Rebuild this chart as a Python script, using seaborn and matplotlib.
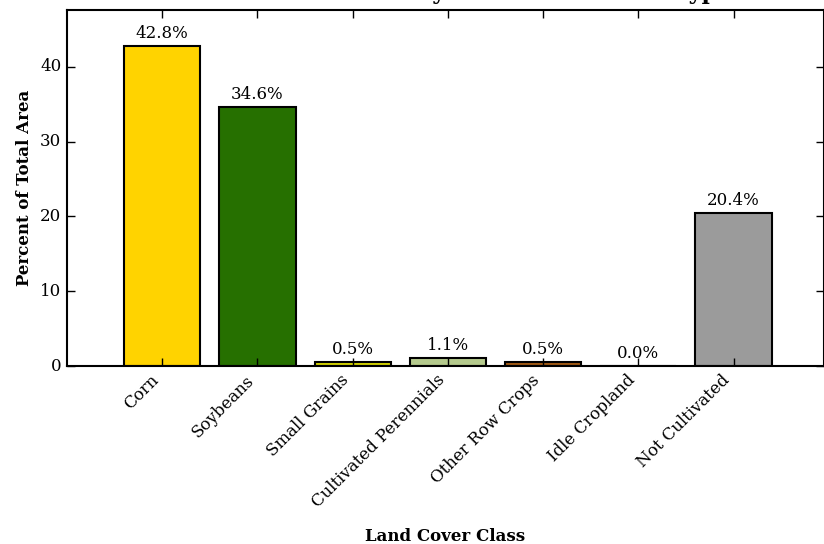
#!/usr/bin/env python3
# -*- coding: utf-8 -*-

# import modules
import pandas as pd
import matplotlib
matplotlib.use('Agg')
import matplotlib.pyplot as plt
import seaborn as sns

# data
classes = ['Corn', 'Soybeans', 'Small Grains', 'Cultivated Perennials',
           'Other Row Crops', 'Idle Cropland', 'Not Cultivated']
percent = [42.8, 34.6, 0.5, 1.1, 0.5, 0.02, 20.4]
colors = ['#FFD300', '#267000', '#D4D400', '#B5CA8D',
          '#A35A14', '#C8C8A0', '#9B9B9B']
title = 'Distribution of Area by Land Cover Class Type'

df = pd.DataFrame({'cls': classes, 'pct': percent})

# classic matplotlib look
plt.style.use('classic')
plt.rcParams['font.family'] = ['DejaVu Serif']
plt.rcParams['font.size'] = 12
plt.rcParams['axes.linewidth'] = 1.5
plt.rcParams['figure.facecolor'] = 'white'
plt.rcParams['savefig.facecolor'] = 'white'

fig = plt.figure(figsize=(8.24, 5.44), dpi=100)
ax = fig.add_axes([0.0813, 0.327, 0.9187, 0.6546])

sns.barplot(data=df, x='cls', y='pct', hue='cls', palette=colors,
            order=classes, hue_order=classes, legend=False, width=0.8,
            edgecolor='black', linewidth=1.5, saturation=1, ax=ax)

for cont in ax.containers:
    ax.bar_label(cont, fmt='%.1f%%', padding=3, fontsize=12)

ax.set_xlim(-1.0, 6.95)
ax.set_ylim(0, 47.6)
ax.set_yticks([0, 10, 20, 30, 40])
ax.tick_params(direction='in', length=6, width=1, top=True, right=True,
               labelsize=12)
ax.set_xticks(range(len(classes)))
ax.set_xticklabels(classes, rotation=45, ha='right')

ax.set_xlabel('Land Cover Class', fontweight='bold', fontsize=12, labelpad=12)
ax.set_ylabel('Percent of Total Area', fontweight='bold', fontsize=12)
ax.set_title(title, fontweight='bold', fontsize=16, pad=8)
ax.grid(False)

fig.savefig('out.png', dpi=100)
